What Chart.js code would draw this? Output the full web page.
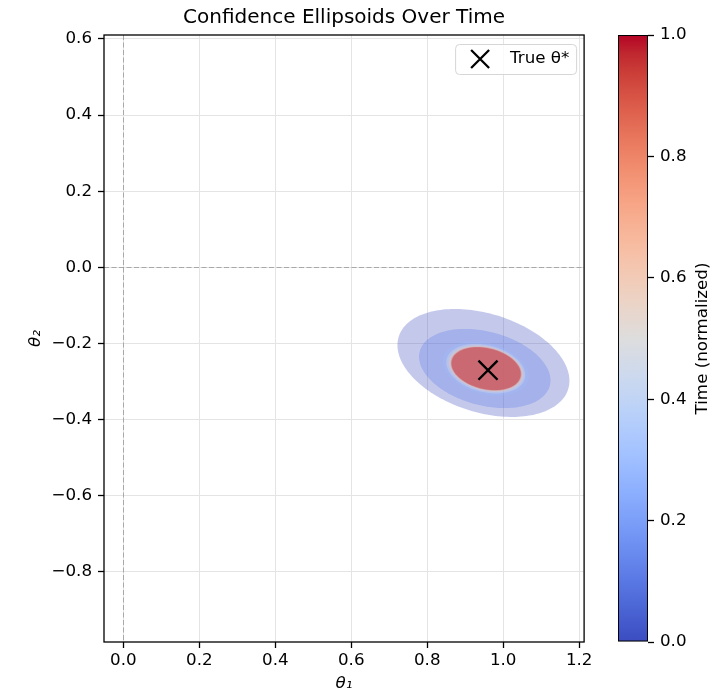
<!DOCTYPE html>
<html>
<head>
<meta charset="utf-8">
<script src="https://cdn.jsdelivr.net/npm/chart.js@4.4.1/dist/chart.umd.min.js"></script>
<style>
  body { margin: 0; background: #fff; }
  #wrap { position: relative; width: 712px; height: 695px; }
  .box { position: absolute; top: 0; height: 695px; }
</style>
</head>
<body>
<div id="wrap">
  <div class="box" style="left:0;width:600px"><canvas id="main"></canvas></div>
  <div class="box" style="left:600px;width:112px"><canvas id="cbar"></canvas></div>
</div>
<script>
const FONT = 'DejaVu Sans';

// axes
const xTicks = [0.0, 0.2, 0.4, 0.6, 0.8, 1.0, 1.2];
const yTicks = [-0.8, -0.6, -0.4, -0.2, 0.0, 0.2, 0.4, 0.6];
const cbTicks = [0.0, 0.2, 0.4, 0.6, 0.8, 1.0];
const xRange = [-0.051, 1.213];
const yRange = [-0.984, 0.6105];

// confidence ellipsoids: normalised time, centre, half-extent along x / y, correlation
const ellTime = [0.0, 0.1, 0.3, 0.5, 0.6, 0.8, 0.9, 1.0];
const ellCx   = [0.948, 0.9515, 0.954, 0.954, 0.955, 0.955, 0.955, 0.955];
const ellCy   = [-0.251, -0.2656, -0.266, -0.266, -0.266, -0.266, -0.266, -0.266];
const ellSx   = [0.2264, 0.173, 0.1135, 0.104, 0.099, 0.094, 0.0925, 0.091];
const ellSy   = [0.1418, 0.104, 0.071, 0.065, 0.0615, 0.0585, 0.0572, 0.0562];
const ellRho  = [-0.33, -0.30, -0.27, -0.26, -0.26, -0.25, -0.25, -0.25];

const trueTheta = [0.96, -0.27];

// coolwarm colormap
const coolwarm = [
  [59,76,192],[68,90,204],[77,104,215],[87,117,225],[98,130,234],[108,142,241],
  [119,154,247],[130,165,251],[141,176,254],[152,185,255],[163,194,255],[174,201,253],
  [184,208,249],[194,213,244],[204,217,238],[213,219,230],[221,221,221],[229,216,209],
  [236,211,197],[241,204,185],[245,196,173],[247,187,160],[247,177,148],[247,166,135],
  [244,154,123],[241,141,111],[236,127,99],[229,112,88],[222,96,77],[213,80,66],
  [203,62,56],[192,40,47],[180,4,38]
];
function cw(t, a) {
  const p = t * (coolwarm.length - 1);
  const i = Math.min(Math.floor(p), coolwarm.length - 2);
  const f = p - i;
  const c = coolwarm[i].map((v, k) => Math.round(v + (coolwarm[i + 1][k] - v) * f));
  return a == null ? `rgb(${c})` : `rgba(${c},${a})`;
}
const fmt = v => Number(v).toFixed(1).replace('-', '\u2212');
const setTicks = list => s => { s.ticks = list.map(v => ({ value: v })); };

const ellipsePlugin = {
  id: 'ellipses',
  beforeDatasetsDraw(chart) {
    const { ctx, chartArea: a, scales: { x, y } } = chart;
    ctx.save();
    ctx.beginPath();
    ctx.rect(a.left, a.top, a.width, a.height);
    ctx.clip();
    // dashed zero lines
    ctx.strokeStyle = 'rgba(128,128,128,0.6)';
    ctx.lineWidth = 1;
    ctx.setLineDash([5, 2.5]);
    const x0 = Math.round(x.getPixelForValue(0)) + 0.5;
    const y0 = Math.round(y.getPixelForValue(0)) + 0.5;
    ctx.beginPath(); ctx.moveTo(x0, a.top); ctx.lineTo(x0, a.bottom); ctx.stroke();
    ctx.beginPath(); ctx.moveTo(a.left, y0); ctx.lineTo(a.right, y0); ctx.stroke();
    ctx.setLineDash([]);
    // ellipses, oldest first
    ellTime.forEach((t, i) => {
      const q = Math.sqrt(1 - ellRho[i] * ellRho[i]);
      ctx.beginPath();
      for (let k = 0; k <= 180; k++) {
        const th = k / 180 * 2 * Math.PI;
        const dx = ellSx[i] * Math.cos(th);
        const dy = ellSy[i] * (ellRho[i] * Math.cos(th) + q * Math.sin(th));
        const px = x.getPixelForValue(ellCx[i] + dx);
        const py = y.getPixelForValue(ellCy[i] + dy);
        if (k) ctx.lineTo(px, py); else ctx.moveTo(px, py);
      }
      ctx.closePath();
      ctx.fillStyle = cw(t, 0.3);
      ctx.fill();
    });
    ctx.restore();
  }
};

const framePlugin = {
  id: 'frame',
  afterDraw(chart) {
    const { ctx, chartArea: a } = chart;
    ctx.save();
    ctx.strokeStyle = '#000';
    ctx.lineWidth = 1.3;
    ctx.strokeRect(a.left, a.top, a.width, a.height);
    // legend
    const bw = 121, bh = 30, bx = a.right - 129, by = a.top + 9;
    ctx.beginPath();
    ctx.roundRect(bx + 0.5, by + 0.5, bw, bh, 4);
    ctx.fillStyle = 'rgba(255,255,255,0.8)';
    ctx.fill();
    ctx.strokeStyle = '#d6d6d6';
    ctx.lineWidth = 1;
    ctx.stroke();
    const cx = bx + 25, cy = by + bh / 2, r = 9;
    ctx.strokeStyle = '#000';
    ctx.lineWidth = 2.3;
    ctx.beginPath();
    ctx.moveTo(cx - r, cy - r); ctx.lineTo(cx + r, cy + r);
    ctx.moveTo(cx - r, cy + r); ctx.lineTo(cx + r, cy - r);
    ctx.stroke();
    ctx.fillStyle = '#000';
    ctx.font = `16.7px "${FONT}"`;
    ctx.textBaseline = 'middle';
    ctx.fillText('True θ*', bx + 55, cy);
    ctx.restore();
  }
};

new Chart(document.getElementById('main'), {
  type: 'scatter',
  data: {
    datasets: [{
      label: 'True θ*',
      data: [{ x: trueTheta[0], y: trueTheta[1] }],
      pointStyle: 'crossRot',
      pointRadius: 13.5,
      borderColor: '#000',
      backgroundColor: '#000',
      borderWidth: 2.4
    }]
  },
  options: {
    responsive: true,
    maintainAspectRatio: false,
    animation: false,
    layout: { padding: { left: 25, right: 13, top: 0, bottom: 0 } },
    plugins: {
      legend: { display: false },
      tooltip: { enabled: false },
      title: {
        display: true,
        fullSize: false,
        text: 'Confidence Ellipsoids Over Time',
        color: '#000',
        font: { family: FONT, size: 20, weight: 'normal' },
        padding: { top: 6, bottom: 5 }
      }
    },
    scales: {
      x: {
        type: 'linear',
        min: xRange[0], max: xRange[1],
        afterBuildTicks: setTicks(xTicks),
        afterFit: s => { s.height = 53; },
        grid: { color: '#e4e4e4', lineWidth: 1, tickColor: '#000', tickLength: 6, tickWidth: 1.3 },
        border: { display: false },
        ticks: { color: '#000', font: { family: FONT, size: 16.7 }, padding: 3, maxRotation: 0, callback: fmt },
        title: { display: true, text: 'θ₁', color: '#000', padding: { top: 0, bottom: 1 },
                 font: { family: FONT, size: 16.7, style: 'italic' } }
      },
      y: {
        type: 'linear',
        min: yRange[0], max: yRange[1],
        afterBuildTicks: setTicks(yTicks),
        afterFit: s => { s.width = 79; },
        grid: { color: '#e4e4e4', lineWidth: 1, tickColor: '#000', tickLength: 6, tickWidth: 1.3 },
        border: { display: false },
        ticks: { color: '#000', font: { family: FONT, size: 16.7 }, padding: 6, callback: fmt },
        title: { display: true, text: 'θ₂', color: '#000', padding: { top: 1, bottom: 0 },
                 font: { family: FONT, size: 16.7, style: 'italic' } }
      }
    }
  },
  plugins: [ellipsePlugin, framePlugin]
});

const cbLabel = {
  id: 'cbLabel',
  afterDraw(chart) {
    const { ctx, chartArea: a } = chart;
    ctx.save();
    ctx.translate(103, (a.top + a.bottom) / 2);
    ctx.rotate(-Math.PI / 2);
    ctx.fillStyle = '#000';
    ctx.font = `16.7px "${FONT}"`;
    ctx.textAlign = 'center';
    ctx.textBaseline = 'middle';
    ctx.fillText('Time (normalized)', 0, 0);
    ctx.restore();
  }
};

new Chart(document.getElementById('cbar'), {
  type: 'bar',
  data: {
    labels: ['t'],
    datasets: [{
      data: [[0, 1]],
      backgroundColor: c => {
        const a = c.chart.chartArea;
        if (!a) return null;
        const g = c.chart.ctx.createLinearGradient(0, a.bottom, 0, a.top);
        coolwarm.forEach((col, i) => g.addColorStop(i / (coolwarm.length - 1), `rgb(${col})`));
        return g;
      },
      borderColor: '#000',
      borderWidth: 1.3,
      borderSkipped: false,
      barPercentage: 1,
      categoryPercentage: 1
    }]
  },
  options: {
    responsive: true,
    maintainAspectRatio: false,
    animation: false,
    layout: { padding: { left: 18, top: 35, bottom: 53, right: 0 } },
    plugins: { legend: { display: false }, tooltip: { enabled: false } },
    scales: {
      x: { display: false },
      y: {
        position: 'right',
        min: 0, max: 1,
        afterBuildTicks: setTicks(cbTicks),
        afterFit: s => { s.width = 64; },
        grid: { drawOnChartArea: false, tickColor: '#000', tickLength: 6, tickWidth: 1.3 },
        border: { display: false },
        ticks: { color: '#000', font: { family: FONT, size: 16.7 }, padding: 6, callback: fmt }
      }
    }
  },
  plugins: [cbLabel]
});
</script>
</body>
</html>
